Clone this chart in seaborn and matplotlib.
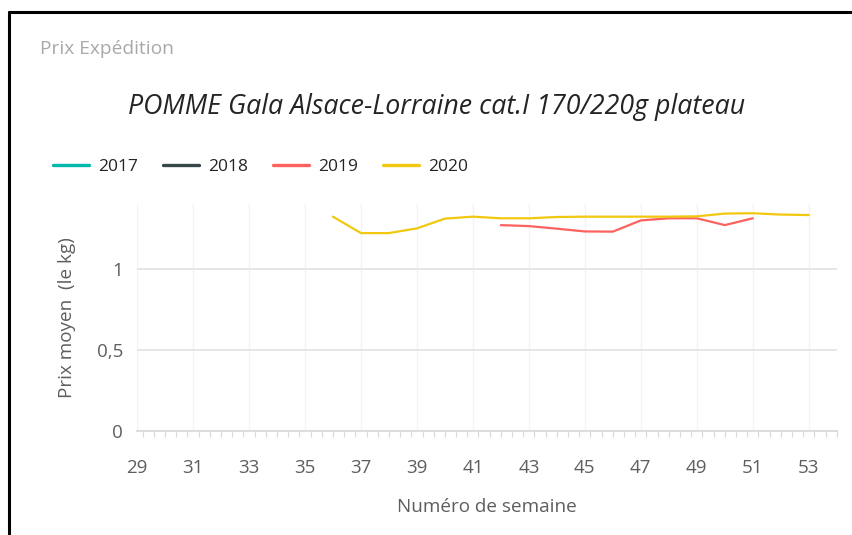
import matplotlib
matplotlib.use("Agg")
import matplotlib.pyplot as plt
from matplotlib.lines import Line2D
from matplotlib.ticker import MultipleLocator, FuncFormatter
import pandas as pd
import seaborn as sns

# weekly average shipping price (EUR / kg)
weeks_2019 = [42, 43, 44, 45, 46, 47, 48, 49, 50, 51]
prices_2019 = [1.270, 1.264, 1.248, 1.231, 1.230, 1.299, 1.312, 1.312, 1.270, 1.312]

weeks_2020 = [36, 37, 38, 39, 40, 41, 42, 43, 44, 45, 46, 47, 48, 49, 50, 51, 52, 53]
prices_2020 = [1.322, 1.221, 1.221, 1.250, 1.310, 1.322, 1.312, 1.312, 1.320, 1.322,
               1.322, 1.322, 1.322, 1.324, 1.341, 1.343, 1.335, 1.332]

years = ["2017", "2018", "2019", "2020"]
colors = ["#01B8AA", "#374649", "#FD625E", "#F2C80F"]

df = pd.concat([
    pd.DataFrame({"semaine": weeks_2019, "prix": prices_2019, "annee": "2019"}),
    pd.DataFrame({"semaine": weeks_2020, "prix": prices_2020, "annee": "2020"}),
])

sns.set_theme(style="white")
plt.rcParams["font.family"] = ["Open Sans", "DejaVu Sans"]

fig = plt.figure(figsize=(8.53, 5.35), dpi=100)
ax = fig.add_axes([0.1606, 0.1935, 0.8204, 0.4252])

sns.lineplot(data=df, x="semaine", y="prix", hue="annee", hue_order=years,
             palette=dict(zip(years, colors)), linewidth=1.6, legend=False, ax=ax)

ax.set_xlim(29, 54)
ax.set_ylim(0, 1.4)
ax.set_xticks(range(29, 54, 2))
ax.xaxis.set_minor_locator(MultipleLocator(0.4))
ax.set_yticks([0, 0.5, 1])
ax.yaxis.set_major_formatter(FuncFormatter(lambda v, p: f"{v:g}".replace(".", ",")))

ax.grid(True, axis="x", color="#f3f3f3", linewidth=1)
ax.grid(True, axis="y", color="#e2e2e2", linewidth=1.2)
ax.set_axisbelow(True)
for side in ["top", "right", "left"]:
    ax.spines[side].set_visible(False)
ax.spines["bottom"].set_color("#d9d9d9")
ax.tick_params(axis="both", which="major", labelsize=13.5, labelcolor="#605e5c", length=0)
ax.tick_params(axis="x", which="major", pad=20)
ax.tick_params(axis="x", which="minor", bottom=True, length=4, color="#d9d9d9", width=0.8)
ax.tick_params(axis="y", pad=10)

ax.set_xlabel("Numéro de semaine", fontsize=13.6, color="#605e5c", labelpad=15)
ax.set_ylabel("Prix moyen  (le kg)", fontsize=13.6, color="#605e5c", labelpad=15)

fig.text(0.047, 0.909, "Prix Expédition", fontsize=13.8, color="#a8a8a8", va="center")
fig.text(0.512, 0.800, "POMME Gala Alsace-Lorraine cat.I 170/220g plateau",
         fontsize=19.3, style="italic", color="#252423", ha="center", va="center")

handles = [Line2D([], [], color=c, linewidth=2.4) for c in colors]
fig.legend(handles, years, loc="center left", bbox_to_anchor=(0.048, 0.688), ncol=4,
           frameon=False, fontsize=12.5, handlelength=2.07, handletextpad=0.52,
           columnspacing=1.44, labelcolor="#252423", borderpad=0.2)

# outer frame of the visual
fig.add_artist(Line2D([0.0105, 0.0105], [0, 0.978], color="black", linewidth=2.2))
fig.add_artist(Line2D([0.0105, 1], [0.978, 0.978], color="black", linewidth=2.2))

fig.savefig("out.png", dpi=100, facecolor="white")
